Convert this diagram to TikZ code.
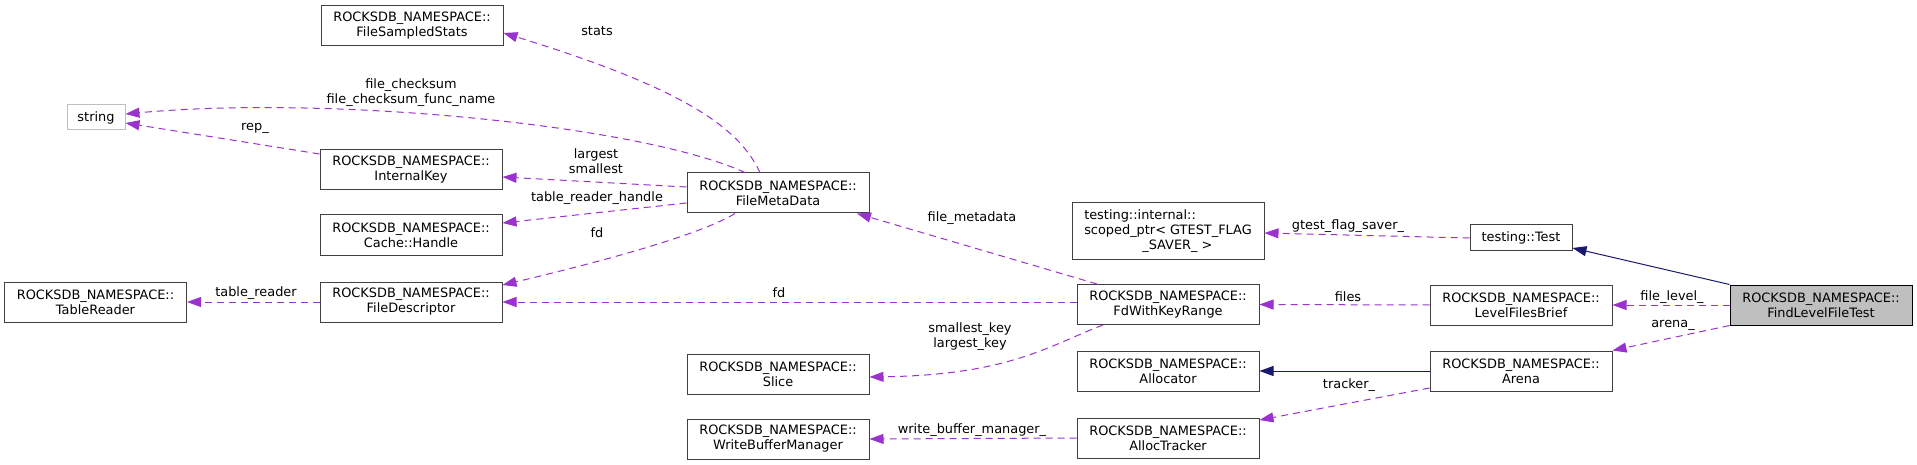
\documentclass[tikz,border=0pt]{standalone}
\usepackage{fontspec}
\setmainfont{DejaVu Sans}
\usetikzlibrary{arrows.meta}
\definecolor{usecol}{HTML}{9A32CD}
\definecolor{inhcol}{HTML}{191970}
\definecolor{boxcol}{HTML}{404040}
\tikzset{
	cls/.style={draw=boxcol, line width=1pt, rectangle, inner sep=0pt,
		minimum width=182pt, minimum height=40pt, align=center},
	ext/.style={cls, draw=black!25, minimum width=58pt, minimum height=25pt},
	lbl/.style={inner sep=0pt, align=center},
	uses/.style={usecol, line width=1pt, dash pattern=on 7pt off 5pt,
		-{Triangle[length=14pt, width=10pt]}},
	inh/.style={inhcol, line width=1pt, -{Triangle[length=14pt, width=10pt]}},
}
\begin{document}
\begin{tikzpicture}[x=1pt, y=-1pt, font=\fontsize{12.9}{15}\selectfont]
		\useasboundingbox (0,0) rectangle (1917,465);
		% classes
		\foreach \n/\p/\l in {%
			fss/{412,26}/FileSampledStats,
			ik/{411,170}/InternalKey,
			ch/{411,235}/Cache::Handle,
			tr/{95.5,302}/TableReader,
			fd/{411,302}/FileDescriptor,
			fmd/{778,193}/FileMetaData,
			slice/{778,374}/Slice,
			wbm/{778,439}/WriteBufferManager,
			fdwkr/{1168,304.5}/FdWithKeyRange,
			alloc/{1168,371}/Allocator,
			at/{1168,438}/AllocTracker,
			lfb/{1521,305}/LevelFilesBrief,
			arena/{1521,371}/Arena} {
			\node[cls] (\n) at (\p) {ROCKSDB\_NAMESPACE::\\\l};
		}
		\node[ext] (string) at (96,117.5) {string};
		\node[cls, minimum width=192pt, minimum height=56pt, align=left]
		(sp) at (1168,231) {testing::internal::\\scoped\_ptr< GTEST\_FLAG\\\hspace*{4.5em}\_SAVER\_ >};
		\node[cls, minimum width=102pt, minimum height=26pt] (test) at (1521,238) {testing::Test};
		\node[cls, fill=black!25, draw=black] (flft) at (1821,305) {ROCKSDB\_NAMESPACE::\\FindLevelFileTest};

		% inheritance
		\draw[inh] (flft.north west) -- ([yshift=-10pt]test.east);
		\draw[inh] (arena.west) -- (alloc.east);

		% members
		\draw[uses] ([xshift=-18pt]fmd.north) .. controls (740,130) and (690,90) .. ([yshift=-7pt]fss.east);
		\draw[uses] ([xshift=-33pt]fmd.north) .. controls (640,125) and (330,95) .. ([yshift=3.5pt]string.east);
		\draw[uses] ([yshift=16pt]ik.west) -- ([yshift=-5.5pt]string.east);
		\draw[uses] ([yshift=6pt]fmd.west) -- ([yshift=-7pt]ik.east);
		\draw[uses] ([yshift=-10pt]fmd.west) -- ([yshift=12pt]ch.east);
		\draw[uses] ([xshift=-43pt]fmd.south) .. controls (700,235) and (600,262) .. ([yshift=17pt]fd.east);
		\draw[uses] (fd.east -| fdwkr.west) -- (fd.east);
		\draw[uses] ([xshift=-71pt]fdwkr.north) -- ([xshift=79pt]fmd.south);
		\draw[uses] ([xshift=-65pt]fdwkr.south) .. controls (1050,345) and (1010,375) .. ([yshift=-3pt]slice.east);
		\draw[uses] (fd.west) -- (tr.east);
		\draw[uses] (lfb.west) -- (fdwkr.east);
		\draw[uses] (test.west) -- ([yshift=-2pt]sp.east);
		\draw[uses] (flft.west) -- (lfb.east);
		\draw[uses] (flft.south west) -- (arena.north east);
		\draw[uses] ([yshift=-17pt]arena.west) -- ([yshift=18pt]at.east);
		\draw[uses] (at.west) -- (wbm.east);

		% member names
		\node[lbl] (l-stats) at (597,31) {stats};
		\node[lbl] (l-chk) at (411,93) {file\_checksum\\file\_checksum\_func\_name};
		\node[lbl] (l-rep) at (255,128) {rep\_};
		\node[lbl] (l-key) at (596,161) {largest\\smallest};
		\node[lbl] (l-trh) at (597,198) {table\_reader\_handle};
		\node[lbl] (l-fd1) at (597,233) {fd};
		\node[lbl] (l-fmd) at (972,218) {file\_metadata};
		\node[lbl] (l-fd2) at (779,293) {fd};
		\node[lbl] (l-skey) at (970,337) {smallest\_key\\largest\_key};
		\node[lbl] (l-tr) at (256,293) {table\_reader};
		\node[lbl] (l-gfs) at (1348,226) {gtest\_flag\_saver\_};
		\node[lbl] (l-files) at (1348,297) {files};
		\node[lbl] (l-fl) at (1672,297) {file\_level\_};
		\node[lbl] (l-arena) at (1673,325) {arena\_};
		\node[lbl] (l-trk) at (1349,385) {tracker\_};
		\node[lbl] (l-wbm) at (972,430) {write\_buffer\_manager\_};
	\end{tikzpicture}
\end{document}
